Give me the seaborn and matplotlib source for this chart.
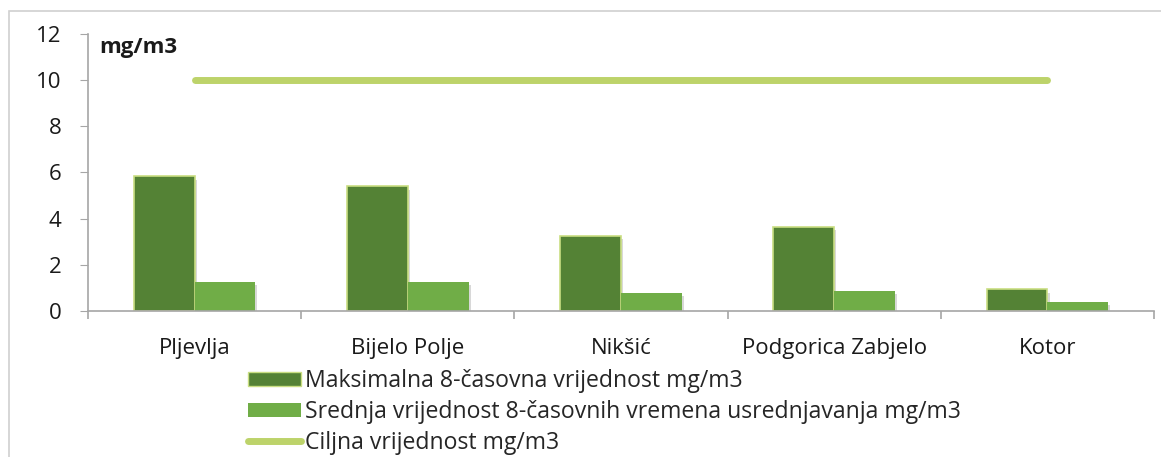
import seaborn as sns
import matplotlib.pyplot as plt
import matplotlib.patheffects as pe
from matplotlib.patches import Patch, Rectangle
from matplotlib.lines import Line2D
import pandas as pd
import numpy as np

# podaci
gradovi = ['Pljevlja', 'Bijelo Polje', 'Nikšić', 'Podgorica Zabjelo', 'Kotor']
maks_8h = [5.84, 5.41, 3.25, 3.65, 0.94]
srednja_8h = [1.26, 1.26, 0.79, 0.88, 0.39]
ciljna = [10, 10, 10, 10, 10]

naziv_maks = 'Maksimalna 8-časovna vrijednost mg/m3'
naziv_sred = 'Srednja vrijednost 8-časovnih vremena usrednjavanja mg/m3'
naziv_cilj = 'Ciljna vrijednost mg/m3'

df = pd.DataFrame({
    'grad': gradovi * 2,
    'vrijednost': maks_8h + srednja_8h,
    'serija': [naziv_maks] * len(gradovi) + [naziv_sred] * len(gradovi),
})

boje = {naziv_maks: '#548235', naziv_sred: '#70AD47'}
boja_cilj = '#BDD36A'

sns.set_style('white')
plt.rcParams['font.family'] = ['Open Sans', 'DejaVu Sans']
fs = 16
fs_leg = 16.6

fig = plt.figure(figsize=(11.61, 4.57), dpi=100)
ax = fig.add_axes([0.0758, 0.3195, 0.9182, 0.6061])

sns.barplot(data=df, x='grad', y='vrijednost', hue='serija', palette=boje,
            width=0.57, gap=0, ax=ax, legend=False, saturation=1)

# okviri i sjenke na stubovima
for i, bar in enumerate(ax.patches):
    if i < len(gradovi):
        bar.set_edgecolor('#C9DE82')
        bar.set_linewidth(1.2)
    else:
        bar.set_linewidth(0)
    bar.set_path_effects([pe.SimplePatchShadow(offset=(1.5, -2.5), shadow_rgbFace='#808080', alpha=0.3),
                          pe.Normal()])

# ciljna vrijednost
ax.plot(np.arange(len(gradovi)), ciljna, color=boja_cilj, lw=5, solid_capstyle='round', zorder=3)

ax.set_ylim(0, 12)
ax.set_xlim(-0.5, len(gradovi) - 0.5)
ax.set_yticks(range(0, 13, 2))
ax.set_xlabel('')
ax.set_ylabel('')

for s in ['top', 'right']:
    ax.spines[s].set_visible(False)
for s in ['left', 'bottom']:
    ax.spines[s].set_color('#A6A6A6')
    ax.spines[s].set_linewidth(1.2)

ax.tick_params(axis='y', left=True, length=6, color='#A6A6A6', labelsize=fs, pad=13, labelcolor='#1a1a1a')
ax.tick_params(axis='x', bottom=False, labelsize=fs, pad=16, labelcolor='#1a1a1a')
ax.set_xticks(np.arange(-0.5, len(gradovi)), minor=True)
ax.tick_params(axis='x', which='minor', bottom=True, length=6, color='#A6A6A6', width=1.2)

ax.text(0.011, 0.95, 'mg/m3', transform=ax.transAxes, fontsize=fs, fontweight='bold',
        va='center', ha='left', color='#1a1a1a')

# okvir dijagrama
fig.add_artist(Rectangle((9 / 1161, -0.5), 2, 0.5 + (1 - 11 / 457), transform=fig.transFigure,
                         fill=False, edgecolor='#D0D0D0', lw=1.2))

# legenda
ruke = [Patch(facecolor=boje[naziv_maks], edgecolor='#C9DE82', label=naziv_maks),
        Patch(facecolor=boje[naziv_sred], edgecolor='none', label=naziv_sred),
        Line2D([0], [0], color=boja_cilj, lw=5, solid_capstyle='round', label=naziv_cilj)]
fig.legend(handles=ruke, loc='upper left', bbox_to_anchor=(248 / 1161, 1 - 369 / 457),
           frameon=False, fontsize=fs_leg, handlelength=2.3, handleheight=0.55,
           handletextpad=0.18, labelspacing=0.3, borderpad=0, borderaxespad=0)

fig.savefig('out.png', dpi=100)
